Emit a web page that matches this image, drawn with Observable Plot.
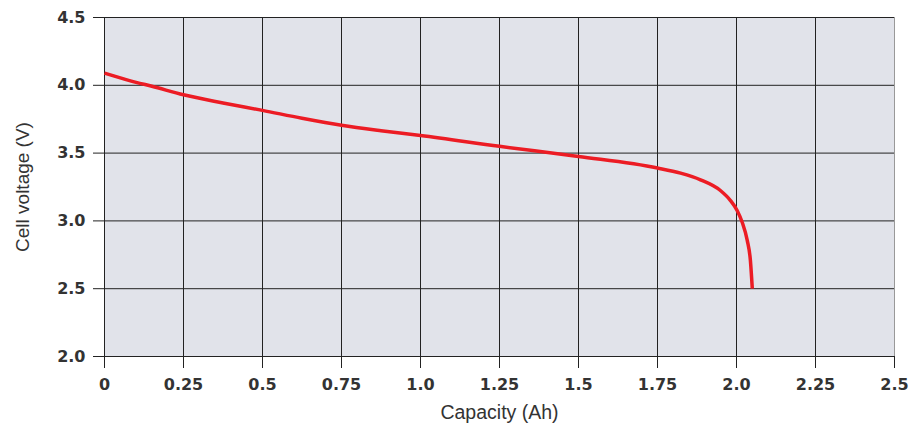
<!DOCTYPE html>
<html>
<head>
<meta charset="utf-8">
<script src="https://cdn.jsdelivr.net/npm/d3@7"></script>
<script src="https://cdn.jsdelivr.net/npm/@observablehq/plot@0.6"></script>
<style>
  html, body { margin: 0; padding: 0; background: #fff; }
</style>
</head>
<body>
<div id="chart"></div>
<script>
const capacity = [0, 0.05, 0.1, 0.15, 0.25, 0.375, 0.5, 0.625, 0.75, 0.875, 1.0, 1.25, 1.5, 1.75, 1.823, 1.886, 1.949, 1.981, 2.002, 2.018, 2.034, 2.044, 2.05];
const voltage  = [4.09, 4.055, 4.022, 3.993, 3.93, 3.87, 3.815, 3.757, 3.705, 3.665, 3.63, 3.55, 3.475, 3.39, 3.352, 3.303, 3.224, 3.15, 3.077, 2.99, 2.856, 2.708, 2.5];
const xTicks = [0, 0.25, 0.5, 0.75, 1.0, 1.25, 1.5, 1.75, 2.0, 2.25, 2.5];
const xTickLabels = ["0", "0.25", "0.5", "0.75", "1.0", "1.25", "1.5", "1.75", "2.0", "2.25", "2.5"];
const yTicks = [2.0, 2.5, 3.0, 3.5, 4.0, 4.5];
const yTickLabels = ["2.0", "2.5", "3.0", "3.5", "4.0", "4.5"];

const data = capacity.map((c, i) => ({c, v: voltage[i]}));
const titleFont = "Liberation Sans";

const chart = Plot.plot({
  width: 920,
  height: 424,
  marginLeft: 104,
  marginRight: 26,
  marginTop: 17,
  marginBottom: 68,
  x: {domain: [0, 2.5]},
  y: {domain: [2, 4.5]},
  style: {background: "#fff", fontFamily: "DejaVu Sans", fontSize: "16px", fontWeight: "bold", color: "#333", overflow: "visible"},
  marks: [
    Plot.frame({fill: "#e1e3ea", stroke: null}),
    Plot.ruleX(xTicks.filter(d => d < 2.5), {stroke: "#222", strokeWidth: 1}),
    Plot.ruleX(xTicks.filter(d => d === 2.5), {stroke: "#999", strokeWidth: 1}),
    Plot.ruleY(yTicks, {stroke: "#222", strokeWidth: 1}),
    Plot.axisX({
      ticks: xTicks,
      tickFormat: d => xTickLabels[xTicks.indexOf(d)],
      tickSize: 12,
      tickPadding: 10,
      fontSize: 16,
      stroke: "#222",
      fill: "#333",
      label: null
    }),
    Plot.axisY({
      ticks: yTicks,
      tickFormat: d => yTickLabels[yTicks.indexOf(d)],
      tickSize: 11,
      tickPadding: 8,
      fontSize: 16,
      stroke: "#222",
      fill: "#333",
      label: null
    }),
    Plot.text(["Capacity (Ah)"], {frameAnchor: "bottom", lineAnchor: "middle", textAnchor: "middle", dy: 56, fontSize: 19.5, fontFamily: titleFont, fontWeight: "normal", fill: "#333"}),
    Plot.text(["Cell voltage (V)"], {frameAnchor: "left", lineAnchor: "middle", textAnchor: "middle", dx: -82, rotate: -90, fontSize: 19, fontFamily: titleFont, fontWeight: "normal", fill: "#333"}),
    Plot.line(data, {x: "c", y: "v", stroke: "#ec1c24", strokeWidth: 3.5, curve: "monotone-x", strokeLinecap: "butt"})
  ]
});
document.getElementById("chart").appendChild(chart);
</script>
</body>
</html>
